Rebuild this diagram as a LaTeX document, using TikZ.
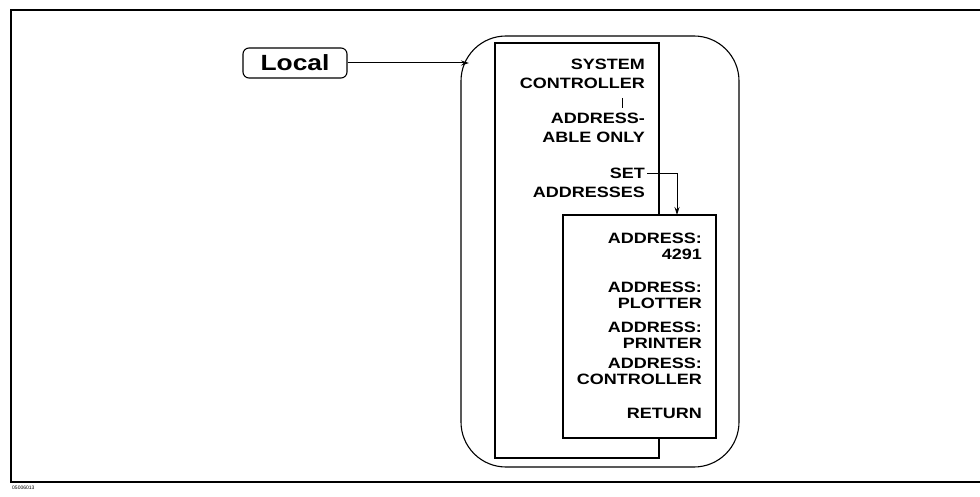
\documentclass[tikz,border=0pt]{standalone}
\usepackage{fontspec}
\setmainfont{Liberation Sans}
\newfontfamily\keyfont[FakeStretch=1.2]{Liberation Sans}
\usetikzlibrary{positioning,arrows.meta}

\begin{document}
\begin{tikzpicture}[x=1pt,y=-1pt,
 panel/.style={draw=black,line width=1.1pt,fill=white,inner sep=0pt},
 softkey/.style={anchor=north east,align=right,inner sep=0pt,
 font=\keyfont\bfseries\fontsize{15}{19}\selectfont},
 subkey/.style={softkey,font=\keyfont\bfseries\fontsize{15}{15.5}\selectfont},
 arr/.style={-{Stealth[length=8pt,width=5pt]},line width=1pt}]
\useasboundingbox (0,0) rectangle (980,497);
\draw[line width=2pt] (982,10) -- (11,10) -- (11,482) -- (982,482);
\node[anchor=north west,inner sep=0pt,font=\fontsize{5}{5}\selectfont] (figid) at (12,486) {05006013};
% menu loop and the two softkey panels
\node[draw,line width=1.1pt,rounded corners=45pt,inner sep=0pt,
 minimum width=278pt,minimum height=431pt] (loop) at (600,251.5) {};
\node[panel,minimum width=164pt,minimum height=415pt] (keymenu) at (577,250.5) {};
\node[softkey] (syskey) at (645,59) {SYSTEM\\CONTROLLER};
\node[softkey] (addrkey) at (645,113) {ADDRESS-\\ABLE ONLY};
\node[softkey] (setkey) at (645,168) {SET\\ADDRESSES};
\draw[line width=0.6pt] (622,98) -- (622,108);
\node[panel,minimum width=153pt,minimum height=223pt] (addrmenu) at (639.5,326.5) {};
\node[subkey] (k4291) at (702,233) {ADDRESS:\\4291};
\node[subkey] (kplot) at (702,282) {ADDRESS:\\PLOTTER};
\node[subkey] (kprint) at (702,322) {ADDRESS:\\PRINTER};
\node[subkey] (kctrl) at (702,358) {ADDRESS:\\CONTROLLER};
\node[subkey] (kret) at (702,408) {RETURN};
% hardkey
\node[draw,line width=1.1pt,rounded corners=6pt,inner sep=0pt,
 minimum width=104pt,minimum height=30pt,
 font=\keyfont\bfseries\fontsize{22}{22}\selectfont] (local) at (295,63) {Local};
\coordinate (entry) at (469,63);
\coordinate (drop) at (677,215);
\draw[arr] (local.east) -- (entry);
\draw[arr] ([shift={(2pt,-6pt)}]setkey.north east) -| (drop);
\end{tikzpicture}
\end{document}
